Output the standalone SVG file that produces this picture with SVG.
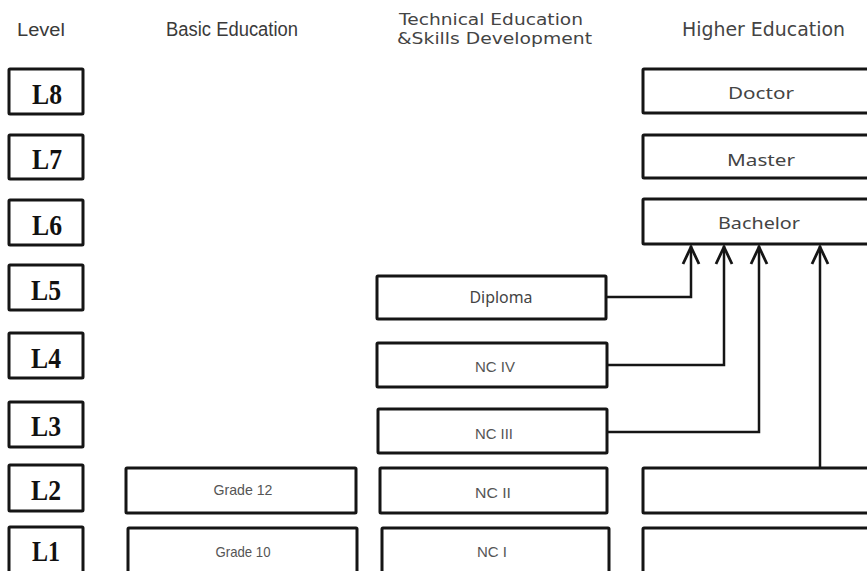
<svg xmlns="http://www.w3.org/2000/svg" width="867" height="571" viewBox="0 0 867 571">
<style>
.bx{fill:#fff;stroke:#151515;stroke-width:3}
.lv{font-family:"Liberation Serif",serif;font-weight:bold;font-size:30px;fill:#111;text-anchor:middle}
.hd{font-family:"Liberation Sans","DejaVu Sans",sans-serif;fill:#3a3a3a}
.hd2{font-family:"DejaVu Sans","Liberation Sans",sans-serif;fill:#444}
.he{font-family:"Noto Sans","Liberation Sans",sans-serif;font-size:17px;fill:#444;text-anchor:middle}
.sm{font-family:"Liberation Sans","DejaVu Sans",sans-serif;font-size:14.5px;fill:#555;text-anchor:middle}
.cn{fill:none;stroke:#151515;stroke-width:2.5}
.ah{fill:none;stroke:#151515;stroke-width:2.8;stroke-linejoin:miter}
</style>
<rect width="867" height="571" fill="#fff"/>
<g id="headers">
<text class="hd" x="17" y="36" font-size="18" textLength="48" lengthAdjust="spacingAndGlyphs">Level</text>
<text class="hd" x="166" y="36" font-size="20" textLength="132" lengthAdjust="spacingAndGlyphs">Basic Education</text>
<text class="hd2" x="399" y="25" font-size="15" textLength="184" lengthAdjust="spacingAndGlyphs">Technical Education</text>
<text class="hd2" x="397" y="44" font-size="15" textLength="195" lengthAdjust="spacingAndGlyphs">&amp;Skills Development</text>
<text class="hd2" x="682" y="36" font-size="19" textLength="163" lengthAdjust="spacingAndGlyphs">Higher Education</text>
</g>
<g id="L8"><rect class="bx" x="9" y="69" width="74" height="45" rx="1"/><text class="lv" x="47" y="104" textLength="30" lengthAdjust="spacingAndGlyphs">L8</text></g>
<g id="L7"><rect class="bx" x="9" y="135" width="74" height="44" rx="1"/><text class="lv" x="47" y="169" textLength="30" lengthAdjust="spacingAndGlyphs">L7</text></g>
<g id="L6"><rect class="bx" x="9" y="200" width="74" height="45" rx="1"/><text class="lv" x="47" y="235" textLength="30" lengthAdjust="spacingAndGlyphs">L6</text></g>
<g id="L5"><rect class="bx" x="9" y="265" width="74" height="45" rx="1"/><text class="lv" x="46" y="300" textLength="30" lengthAdjust="spacingAndGlyphs">L5</text></g>
<g id="L4"><rect class="bx" x="9" y="333" width="74" height="45" rx="1"/><text class="lv" x="46" y="368" textLength="30" lengthAdjust="spacingAndGlyphs">L4</text></g>
<g id="L3"><rect class="bx" x="9" y="402" width="74" height="45" rx="1"/><text class="lv" x="46" y="436" textLength="30" lengthAdjust="spacingAndGlyphs">L3</text></g>
<g id="L2"><rect class="bx" x="9" y="465" width="74" height="46" rx="1"/><text class="lv" x="46" y="500" textLength="30" lengthAdjust="spacingAndGlyphs">L2</text></g>
<g id="L1"><rect class="bx" x="9" y="527" width="74" height="50" rx="1"/><text class="lv" x="46" y="561" textLength="28" lengthAdjust="spacingAndGlyphs">L1</text></g>
<g id="doctor"><rect class="bx" x="643" y="69" width="240" height="44" rx="1"/><text class="he" x="761" y="99" textLength="66" lengthAdjust="spacingAndGlyphs">Doctor</text></g>
<g id="master"><rect class="bx" x="643" y="135" width="240" height="43" rx="1"/><text class="he" x="761" y="166" textLength="68" lengthAdjust="spacingAndGlyphs">Master</text></g>
<g id="bachelor"><rect class="bx" x="643" y="199" width="240" height="45" rx="1"/><text class="he" x="759" y="229" textLength="82" lengthAdjust="spacingAndGlyphs">Bachelor</text></g>
<g id="diploma"><rect class="bx" x="377" y="276" width="229" height="43" rx="1"/><text class="he" x="501" y="303" font-size="15" textLength="63" lengthAdjust="spacingAndGlyphs">Diploma</text></g>
<g id="nc4"><rect class="bx" x="377" y="343" width="230" height="44" rx="1"/><text class="sm" x="495" y="372" textLength="40" lengthAdjust="spacingAndGlyphs">NC IV</text></g>
<g id="nc3"><rect class="bx" x="378" y="409" width="229" height="44" rx="1"/><text class="sm" x="494" y="439" textLength="38" lengthAdjust="spacingAndGlyphs">NC III</text></g>
<g id="nc2"><rect class="bx" x="380" y="468" width="227" height="45" rx="1"/><text class="sm" x="493" y="498" textLength="36" lengthAdjust="spacingAndGlyphs">NC II</text></g>
<g id="nc1"><rect class="bx" x="382" y="528" width="227" height="50" rx="1"/><text class="sm" x="492" y="557" textLength="30" lengthAdjust="spacingAndGlyphs">NC I</text></g>
<g id="grade12"><rect class="bx" x="126" y="468" width="230" height="45" rx="1"/><text class="sm" x="243" y="495" textLength="59" lengthAdjust="spacingAndGlyphs">Grade 12</text></g>
<g id="grade10"><rect class="bx" x="128" y="528" width="229" height="50" rx="1"/><text class="sm" x="243" y="557" textLength="55" lengthAdjust="spacingAndGlyphs">Grade 10</text></g>
<g id="higherL2"><rect class="bx" x="643" y="468" width="240" height="45" rx="1"/></g>
<g id="higherL1"><rect class="bx" x="643" y="528" width="240" height="50" rx="1"/></g>
<g id="connectors">
<polyline class="cn" points="606,297 691,297 691,246"/>
<polyline class="cn" points="607,365 724,365 724,246"/>
<polyline class="cn" points="607,432 759,432 759,246"/>
<polyline class="cn" points="820,468 820,246"/>
<polyline class="ah" points="683,264 691,247 699,264"/>
<polyline class="ah" points="716,264 724,247 732,264"/>
<polyline class="ah" points="751,264 759,247 767,264"/>
<polyline class="ah" points="812,264 820,247 828,264"/>
</g>
</svg>
